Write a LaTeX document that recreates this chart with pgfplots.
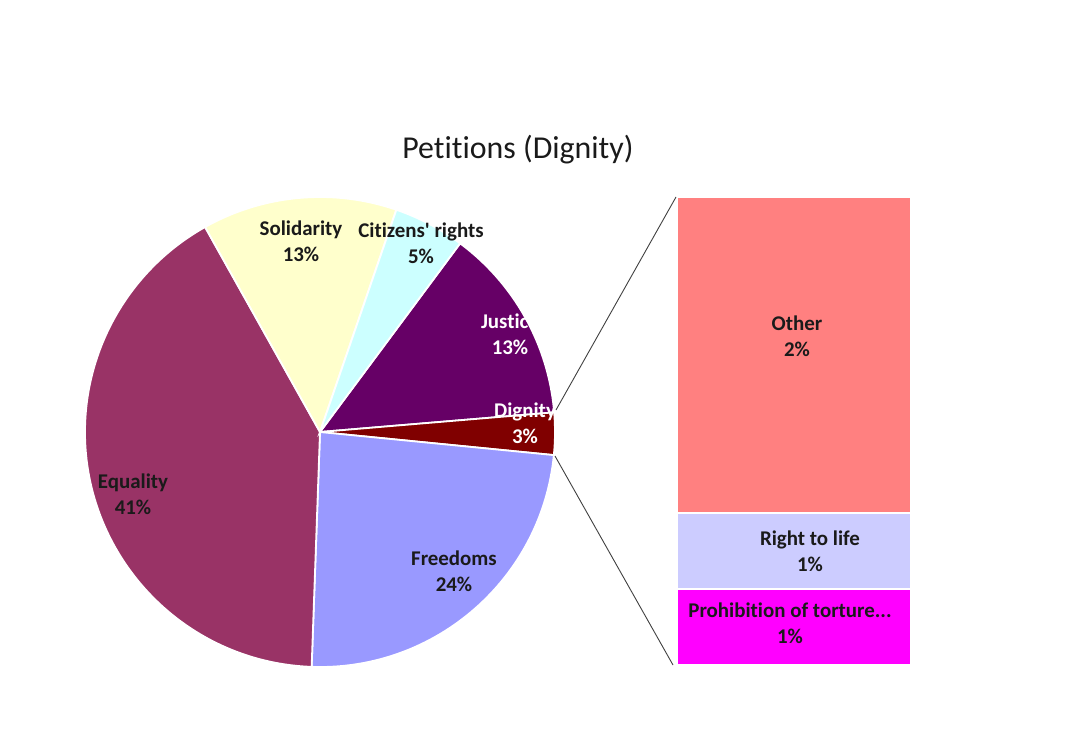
\documentclass[border=0pt]{standalone}
\usepackage{pgfplots}
\pgfplotsset{compat=1.18}
\usepackage{fontspec}
\setmainfont{Carlito}[Ligatures=NoCommon]
\newcommand{\squote}{\XeTeXglyph\numexpr\XeTeXcharglyph"27\relax}

\definecolor{cEqu}{HTML}{993366}
\definecolor{cFre}{HTML}{9999FF}
\definecolor{cDig}{HTML}{800000}
\definecolor{cJus}{HTML}{660066}
\definecolor{cCit}{HTML}{CCFFFF}
\definecolor{cSol}{HTML}{FFFFCC}
\definecolor{cOth}{HTML}{FF8080}
\definecolor{cLif}{HTML}{CCCCFF}
\definecolor{cTor}{HTML}{FF00FF}
\definecolor{txt}{HTML}{1A1A1A}

% pie shares in percent, clockwise from the Justice slice
\def\vJus{13.5}
\def\vDig{2.9}
\def\vFre{24.0}
\def\vEqu{41.3}
\def\vSol{13.4}
\def\vCit{4.9}
\pgfmathsetmacro{\aJus}{53.4}
\pgfmathsetmacro{\aDig}{\aJus-3.6*\vJus}
\pgfmathsetmacro{\aFre}{\aDig-3.6*\vDig}
\pgfmathsetmacro{\aEqu}{\aFre-3.6*\vFre}
\pgfmathsetmacro{\aSol}{\aEqu-3.6*\vEqu}
\pgfmathsetmacro{\aCit}{\aSol-3.6*\vSol}

\newcommand{\pieslice}[3]{%
  \fill[#3, draw=white, line width=1.8bp] (axis cs:320,432) -- ++(#1:235bp)
    arc[start angle=#1, delta angle={-3.6*#2}, radius=235bp] -- cycle;}

\newcommand{\lab}{\fontsize{21}{26}\selectfont\bfseries}

\begin{document}
\begin{tikzpicture}
% bar of the Dignity breakdown
\begin{axis}[
    at={(677bp,86bp)}, anchor=south west,
    scale only axis,
    width=234bp, height=468bp,
    hide axis,
    ybar stacked,
    bar width=234bp,
    xmin=-0.5, xmax=0.5,
    ymin=0, ymax=2.9,
]
\addplot[fill=cTor, draw=white, line width=1.8bp] coordinates {(0,0.469)};
\addplot[fill=cLif, draw=white, line width=1.8bp] coordinates {(0,0.475)};
\addplot[fill=cOth, draw=white, line width=1.8bp] coordinates {(0,1.956)};
\end{axis}

\begin{axis}[
    at={(0,0)}, anchor=south west,
    scale only axis,
    width=1066bp, height=751bp,
    xmin=0, xmax=1066, ymin=0, ymax=751,
    y dir=reverse,
    hide axis,
    clip=false,
]
\path (axis cs:0,0) rectangle (axis cs:1066,751);
\pieslice{\aJus}{\vJus}{cJus}
\pieslice{\aDig}{\vDig}{cDig}
\pieslice{\aFre}{\vFre}{cFre}
\pieslice{\aEqu}{\vEqu}{cEqu}
\pieslice{\aSol}{\vSol}{cSol}
\pieslice{\aCit}{\vCit}{cCit}

% lines to the bar
\draw[black!75, line width=0.9bp] (axis cs:556,410) -- (axis cs:676,197);
\draw[black!75, line width=0.9bp] (axis cs:555,456) -- (axis cs:673,665);

\node[txt, font=\fontsize{32}{38}\selectfont] at (axis cs:518,150) {Petitions (Dignity)};

\node[txt, align=center, font=\lab] at (axis cs:301,241) {Solidarity\\13\%};
\node[txt, align=center, font=\lab] at (axis cs:421,243) {Citizens\squote\ rights\\5\%};
\node[white, align=center, font=\lab] at (axis cs:510,334) {Justice\\13\%};
\node[white, align=center, font=\lab] at (axis cs:525,423) {Dignity\\3\%};
\node[txt, align=center, font=\lab] at (axis cs:133,494) {Equality\\41\%};
\node[txt, align=center, font=\lab] at (axis cs:454,571) {Freedoms\\24\%};

\node[txt, align=center, font=\lab] at (axis cs:797,336) {Other\\2\%};
\node[txt, align=center, font=\lab] at (axis cs:810,551) {Right to life\\1\%};
\node[txt, align=center, font=\lab] at (axis cs:790,623) {Prohibition of torture...\\1\%};
\end{axis}
\end{tikzpicture}
\end{document}
